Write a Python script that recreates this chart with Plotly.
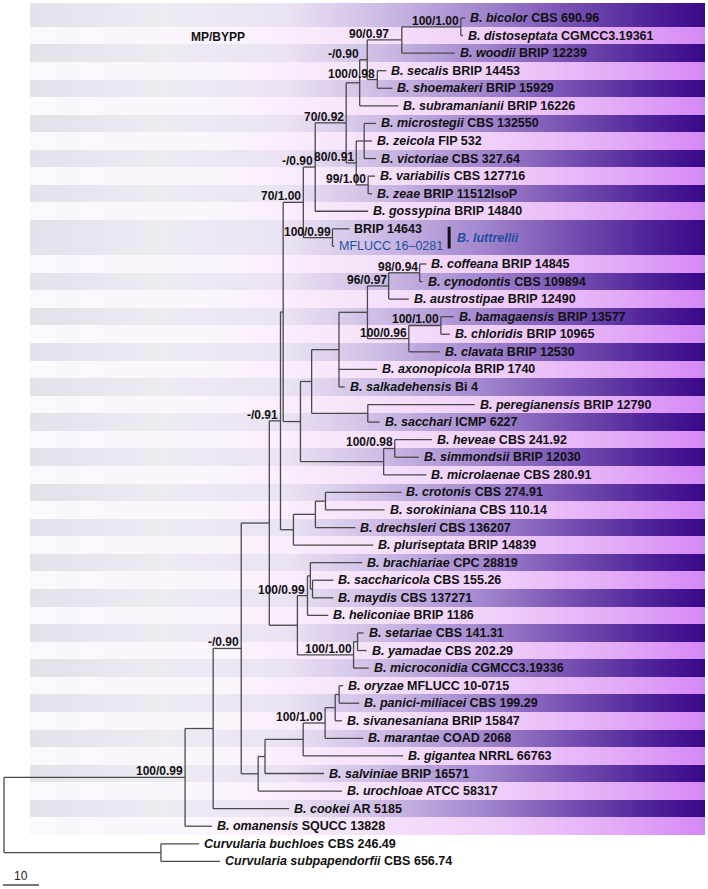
import numpy as np
import plotly.graph_objects as go

# ---------------- data ----------------
leaf_keys = ["bicolor", "distoseptata", "woodii", "secalis", "shoemakeri", "subramanianii",
             "microstegii", "zeicola", "victoriae", "variabilis", "zeae", "gossypina",
             "brip14643", "mflucc", "coffeana", "cynodontis", "austrostipae", "bamagaensis",
             "chloridis", "clavata", "axonopicola", "salkadehensis", "peregianensis", "sacchari",
             "heveae", "simmondsii", "microlaenae", "crotonis", "sorokiniana", "drechsleri",
             "pluriseptata", "brachiariae", "saccharicola", "maydis", "heliconiae", "setariae",
             "yamadae", "microconidia", "oryzae", "panici", "sivanesaniana", "marantae",
             "gigantea", "salviniae", "urochloae", "cookei", "omanensis", "buchloes",
             "subpapendorfii"]
species = ["B. bicolor", "B. distoseptata", "B. woodii", "B. secalis", "B. shoemakeri",
           "B. subramanianii", "B. microstegii", "B. zeicola", "B. victoriae", "B. variabilis",
           "B. zeae", "B. gossypina", "", "", "B. coffeana", "B. cynodontis", "B. austrostipae",
           "B. bamagaensis", "B. chloridis", "B. clavata", "B. axonopicola", "B. salkadehensis",
           "B. peregianensis", "B. sacchari", "B. heveae", "B. simmondsii", "B. microlaenae",
           "B. crotonis", "B. sorokiniana", "B. drechsleri", "B. pluriseptata", "B. brachiariae",
           "B. saccharicola", "B. maydis", "B. heliconiae", "B. setariae", "B. yamadae",
           "B. microconidia", "B. oryzae", "B. panici-miliacei", "B. sivanesaniana",
           "B. marantae", "B. gigantea", "B. salviniae", "B. urochloae", "B. cookei",
           "B. omanensis", "Curvularia buchloes", "Curvularia subpapendorfii"]
strains = ["CBS 690.96", "CGMCC3.19361", "BRIP 12239", "BRIP 14453", "BRIP 15929", "BRIP 16226",
           "CBS 132550", "FIP 532", "CBS 327.64", "CBS 127716", "BRIP 11512IsoP", "BRIP 14840",
           "BRIP 14643", "MFLUCC 16–0281", "BRIP 14845", "CBS 109894", "BRIP 12490",
           "BRIP 13577", "BRIP 10965", "BRIP 12530", "BRIP 1740", "Bi 4", "BRIP 12790",
           "ICMP 6227", "CBS 241.92", "BRIP 12030", "CBS 280.91", "CBS 274.91", "CBS 110.14",
           "CBS 136207", "BRIP 14839", "CPC 28819", "CBS 155.26", "CBS 137271", "BRIP 1186",
           "CBS 141.31", "CBS 202.29", "CGMCC3.19336", "MFLUCC 10-0715", "CBS 199.29",
           "BRIP 15847", "COAD 2068", "NRRL 66763", "BRIP 16571", "ATCC 58317", "AR 5185",
           "SQUCC 13828", "CBS 246.49", "CBS 656.74"]

# tree edges: parent, child, branch length (children listed top to bottom)
edges = [
    ("root", "A", 50.3), ("root", "Curv", 43.6),
    ("A", "B", 7.8), ("A", "omanensis", 7.5),
    ("B", "C", 7.8), ("B", "cookei", 21.1),
    ("C", "D", 7.8), ("C", "N258", 4.7),
    ("D", "E", 3.1), ("D", "K", 7.8),
    ("E", "H", 0.75), ("E", "CRO", 3.6),
    ("H", "G", 5.6), ("H", "F", 4.8),
    ("G", "N315", 3.3), ("G", "LUT", 8.1),
    ("N315", "N346", 8.6), ("N315", "gossypina", 14.7),
    ("N346", "N359", 3.75), ("N346", "N356", 2.8),
    ("N359", "N367", 2.1), ("N359", "subramanianii", 10.7),
    ("N367", "N402", 9.6), ("N367", "N377", 2.8),
    ("N402", "N461", 16.4), ("N402", "woodii", 14.8),
    ("N461", "bicolor", 1.2), ("N461", "distoseptata", 0.6),
    ("N377", "secalis", 2.5), ("N377", "shoemakeri", 4.2),
    ("N356", "N364", 2.2), ("N356", "N368", 3.3),
    ("N364", "microstegii", 3.3), ("N364", "zeicola", 2.2), ("N364", "victoriae", 3.3),
    ("N368", "variabilis", 1.9), ("N368", "zeae", 1.1),
    ("LUT", "brip14643", 4.7), ("LUT", "mflucc", 0.5),
    ("F", "N311", 3.1), ("F", "N383", 23.1),
    ("N311", "N338", 7.6), ("N311", "N367b", 15.6),
    ("N338", "N367c", 7.9), ("N338", "axonopicola", 10.5), ("N338", "salkadehensis", 1.6),
    ("N367c", "N388", 5.9), ("N367c", "N408", 11.5),
    ("N388", "N419", 8.6), ("N388", "austrostipae", 5.6),
    ("N419", "coffeana", 1.9), ("N419", "cynodontis", 0.8),
    ("N408", "N440", 8.9), ("N408", "clavata", 8.6),
    ("N440", "bamagaensis", 3.6), ("N440", "chloridis", 2.5),
    ("N367b", "peregianensis", 29.7), ("N367b", "sacchari", 3.3),
    ("N383", "N394", 3.1), ("N383", "microlaenae", 11.9),
    ("N394", "heveae", 10.3), ("N394", "simmondsii", 6.7),
    ("CRO", "N315b", 6.1), ("CRO", "pluriseptata", 22.2),
    ("N315b", "N325", 2.8), ("N315b", "drechsleri", 11.1),
    ("N325", "crotonis", 21.1), ("N325", "sorokiniana", 16.4),
    ("K", "N307", 2.8), ("K", "N353", 15.6),
    ("N307", "N310", 0.8), ("N307", "heliconiae", 5.8),
    ("N310", "brachiariae", 14.4), ("N310", "N312", 0.6),
    ("N312", "saccharicola", 5.8), ("N312", "maydis", 5.8),
    ("N353", "N357", 1.1), ("N353", "microconidia", 4.2),
    ("N357", "setariae", 1.7), ("N357", "yamadae", 2.5),
    ("N258", "N265", 1.9), ("N258", "urochloae", 23.3),
    ("N265", "N303b", 10.6), ("N265", "salviniae", 16.4),
    ("N303b", "N325b", 6.1), ("N303b", "gigantea", 27.8),
    ("N325b", "N335", 2.8), ("N325b", "marantae", 10.6),
    ("N335", "N339", 1.1), ("N335", "sivanesaniana", 1.9),
    ("N339", "oryzae", 1.1), ("N339", "panici", 5.6),
    ("Curv", "buchloes", 10.6), ("Curv", "subpapendorfii", 16.4),
]
support_nodes = ["A", "C", "E", "G", "N315", "N346", "N367", "N402", "N461", "N377", "N356",
                 "N368", "LUT", "N388", "N419", "N408", "N440", "N394", "N307", "N353", "N325b"]
support_values = ["100/0.99", "-/0.90", "-/0.91", "70/1.00", "-/0.90", "70/0.92", "-/0.90",
                  "90/0.97", "100/1.00", "100/0.98", "80/0.91", "99/1.00", "100/0.99",
                  "96/0.97", "98/0.94", "100/0.96", "100/1.00", "100/0.98", "100/0.99",
                  "100/1.00", "100/1.00"]
scale_bar_length = 10

# ---------------- layout constants ----------------
W, H = 708, 889
PX_PER_UNIT = 3.6
ROOT_PX = 4
ROW0_PX = 18
ROW_PX = 17.57
FONT = "Liberation Sans, Arial, sans-serif"
LINE_COL = "#4a4a4a"
BLUE = "#1f4f9e"

children, blen = {}, {}
for p, c, l in edges:
    children.setdefault(p, []).append(c)
    blen[c] = l

xpos = {"root": 0.0}
leaf_order = []


def walk(n):
    for c in children.get(n, []):
        xpos[c] = xpos[n] + blen[c]
        walk(c)
    if n not in children:
        leaf_order.append(n)


walk("root")
assert leaf_order == leaf_keys
ypos = {k: float(i) for i, k in enumerate(leaf_order)}


def sety(n):
    if n in ypos:
        return ypos[n]
    ys = [sety(c) for c in children[n]]
    ypos[n] = (ys[0] + ys[-1]) / 2
    return ypos[n]


sety("root")

# branch lines
lx, ly = [], []
for n, ch in children.items():
    lx += [xpos[n], xpos[n], None]
    ly += [ypos[ch[0]], ypos[ch[-1]], None]
    for c in ch:
        lx += [xpos[n], xpos[c], None]
        ly += [ypos[c], ypos[c], None]

# background bands (gradient rows)
lut_leaves = [k for k in leaf_order if k in children["LUT"]]
band_rows = []
i = 0
last_band_row = leaf_order.index("omanensis")
while i <= last_band_row:
    if leaf_order[i] == lut_leaves[0]:
        band_rows.append((i, i + len(lut_leaves) - 1))
        i += len(lut_leaves)
    else:
        band_rows.append((i, i))
        i += 1
x0u = (30 - ROOT_PX) / PX_PER_UNIT
x1u = (705 - ROOT_PX) / PX_PER_UNIT
ncol = 340
xedges = np.linspace(x0u, x1u, ncol + 1)
t = (np.arange(ncol) + 0.5) / ncol
yedges = [(3 - ROW0_PX) / ROW_PX] + [b[1] + 0.5 for b in band_rows]
z = []
for k, b in enumerate(band_rows):
    z.append(list(t if k % 2 == 0 else 2 + t))
dark = [(0.0, "#e5e1eb"), (0.2, "#eeebf3"), (0.38, "#ebe3f3"), (0.52, "#cdbce5"),
        (0.66, "#a58ad0"), (0.8, "#7550b2"), (0.92, "#4f2299"), (1.0, "#3a0888")]
light = [(0.0, "#faf8fc"), (0.3, "#fcf4fd"), (0.5, "#f6e2fa"), (0.7, "#efcdf9"),
         (0.87, "#e3aaf7"), (1.0, "#d487f5")]
cs = [[v / 3, c] for v, c in dark] + [[(2 + v) / 3, c] for v, c in light]

fig = go.Figure()
fig.add_trace(go.Heatmap(x=xedges, y=yedges, z=z, colorscale=cs, zmin=0, zmax=3,
                         showscale=False, hoverinfo="skip"))
fig.add_trace(go.Scatter(x=lx, y=ly, mode="lines", line=dict(color=LINE_COL, width=1.3),
                         hoverinfo="skip", showlegend=False))

ann = []
for k, sp, st in zip(leaf_keys, species, strains):
    color = "#111111"
    if k == "mflucc":
        txt, color = st, BLUE
    elif sp == "":
        txt = f"<b>{st}</b>"
    else:
        txt = f"<b><i>{sp}</i> {st}</b>"
    ann.append(dict(x=xpos[k], y=ypos[k], text=txt, xanchor="left", yanchor="middle",
                    xshift=3, showarrow=False, font=dict(family=FONT, size=12.5, color=color)))

support_xshift = {"N402": -11, "N367": -6}
for n, v in zip(support_nodes, support_values):
    ann.append(dict(x=xpos[n], y=ypos[n], text=f"<b>{v}</b>", xanchor="right",
                    yanchor="bottom", xshift=support_xshift.get(n, 0), yshift=-3,
                    showarrow=False, font=dict(family=FONT, size=12, color="#111111")))

# B. luttrellii clade bar
bar_x = xpos["LUT"] + 32.4
bar_y = (ypos[lut_leaves[0]] + ypos[lut_leaves[-1]]) / 2
fig.add_trace(go.Scatter(x=[bar_x, bar_x], y=[bar_y - 0.62, bar_y + 0.62], mode="lines",
                         line=dict(color="#111111", width=3), hoverinfo="skip",
                         showlegend=False))
ann.append(dict(x=bar_x, y=bar_y, text="<b><i>B. luttrellii</i></b>", xanchor="left",
                yanchor="middle", xshift=6, showarrow=False,
                font=dict(family=FONT, size=12.5, color=BLUE)))

ann.append(dict(x=(189 - ROOT_PX) / PX_PER_UNIT, y=(37 - ROW0_PX) / ROW_PX,
                text="<b>MP/BYPP</b>", xanchor="left", yanchor="middle", showarrow=False,
                font=dict(family=FONT, size=12, color="#111111")))

# scale bar
sb_x0 = -0.3
sb_y = (885 - ROW0_PX) / ROW_PX
fig.add_trace(go.Scatter(x=[sb_x0, sb_x0 + scale_bar_length], y=[sb_y, sb_y], mode="lines",
                         line=dict(color=LINE_COL, width=1.3), hoverinfo="skip",
                         showlegend=False))
ann.append(dict(x=sb_x0 + scale_bar_length / 2, y=sb_y, text=str(scale_bar_length),
                xanchor="center", yanchor="bottom", yshift=0, showarrow=False,
                font=dict(family=FONT, size=12, color="#222222")))

fig.update_layout(
    width=W, height=H, margin=dict(l=0, r=0, t=0, b=0),
    paper_bgcolor="white", plot_bgcolor="white", showlegend=False,
    xaxis=dict(visible=False, range=[-ROOT_PX / PX_PER_UNIT, (W - ROOT_PX) / PX_PER_UNIT],
               fixedrange=True),
    yaxis=dict(visible=False, range=[(H - ROW0_PX) / ROW_PX, -ROW0_PX / ROW_PX],
               fixedrange=True),
    annotations=ann,
)
fig.write_html("out.html", config={"displayModeBar": False},
               post_script="document.body.style.margin='0';document.body.style.overflow='hidden';")
